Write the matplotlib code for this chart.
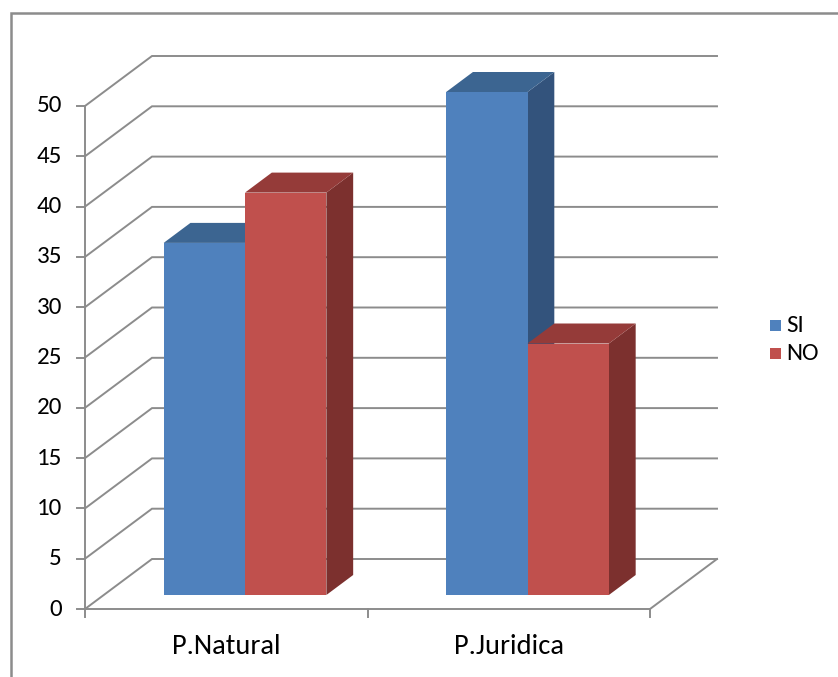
import matplotlib
matplotlib.use("Agg")
import matplotlib.pyplot as plt
from matplotlib.patches import Polygon, Rectangle

plt.rcParams['font.family'] = ['Carlito', 'Lato', 'DejaVu Sans']

categories = ["P.Natural", "P.Juridica"]
series = ["SI", "NO"]
values = {
    "SI": [35, 50],
    "NO": [40, 25],
}
yticks = list(range(0, 55, 5))

front_colors = {"SI": "#4f81bd", "NO": "#c0504d"}
top_colors = {"SI": "#3c6591", "NO": "#953b39"}
side_colors = {"SI": "#33537c", "NO": "#7c302e"}
grid_color = "#8c8c8c"

# oblique projection: depth d in [0, 1] shifts right and up
PX_X = 282.5   # pixels per category
PX_V = 10.06   # pixels per value unit
DX = 67 / PX_X
DV = 50 / PX_V
BAR_W = 0.288
D0, D1 = 0.28, 0.68
VMAX = 50
FS = 18
FS_CAT = 20.5


def proj(x, v, d):
    return (x + d * DX, v + d * DV)


fig = plt.figure(figsize=(8.38, 6.77), dpi=100)
ax = fig.add_axes([0, 0, 1, 1])
ax.set_xlim(-85 / PX_X, (838 - 85) / PX_X)
ax.set_ylim((609 - 677) / PX_V, 609 / PX_V)
ax.axis("off")

ncat = len(categories)
lw = 1.4

# back wall and left wall gridlines
for v in yticks:
    x0, y0 = proj(0, v, 0)
    x1, y1 = proj(0, v, 1)
    x2, y2 = proj(ncat, v, 1)
    ax.plot([x0, x1, x2], [y0, y1, y2], color=grid_color, lw=lw,
            solid_joinstyle="miter", zorder=1)

# floor outline
fx = [proj(0, 0, 0)[0], proj(ncat, 0, 0)[0], proj(ncat, 0, 1)[0]]
fy = [proj(0, 0, 0)[1], proj(ncat, 0, 0)[1], proj(ncat, 0, 1)[1]]
ax.plot(fx, fy, color=grid_color, lw=lw, zorder=1)

# front value axis with ticks
ax.plot([0, 0], [0, VMAX], color=grid_color, lw=lw, zorder=1)
tick_len = 8 / PX_X
for v in yticks:
    ax.plot([-tick_len, 0], [v, v], color=grid_color, lw=lw, zorder=1)
    ax.text(-23 / PX_X, v, str(v), ha="right", va="center",
            fontsize=FS, color="#000000")

# category axis ticks and labels
for i in range(ncat + 1):
    ax.plot([i, i], [0, -8 / PX_V], color=grid_color, lw=lw, zorder=1)
for i, cat in enumerate(categories):
    ax.text(i + 0.5, -37 / PX_V, cat, ha="center", va="center",
            fontsize=FS_CAT, color="#000000")

# 3d bars, drawn left to right
z = 3
for i in range(ncat):
    c = i + 0.5
    for j, s in enumerate(series):
        v = values[s][i]
        xl = c - BAR_W + j * BAR_W
        xr = xl + BAR_W
        side = [proj(xr, 0, D0), proj(xr, 0, D1), proj(xr, v, D1), proj(xr, v, D0)]
        top = [proj(xl, v, D0), proj(xr, v, D0), proj(xr, v, D1), proj(xl, v, D1)]
        front = [proj(xl, 0, D0), proj(xr, 0, D0), proj(xr, v, D0), proj(xl, v, D0)]
        ax.add_patch(Polygon(side, closed=True, fc=side_colors[s], ec="none", zorder=z))
        ax.add_patch(Polygon(top, closed=True, fc=top_colors[s], ec="none", zorder=z))
        ax.add_patch(Polygon(front, closed=True, fc=front_colors[s], ec="none", zorder=z + 0.5))
        z += 1

# legend
for k, s in enumerate(series):
    ly = (609 - 325 - k * 28) / PX_V
    lx = (770 - 85) / PX_X
    ax.add_patch(Rectangle((lx, ly - 5.5 / PX_V), 11 / PX_X, 11 / PX_V,
                           fc=front_colors[s], ec="none", zorder=10))
    ax.text(lx + 16 / PX_X, ly, s, ha="left", va="center", fontsize=FS)

# chart area border
fig.add_artist(Rectangle((11 / 838, -0.05), 1.1, 1 - 13 / 677 + 0.05,
                         transform=fig.transFigure, fill=False,
                         ec=grid_color, lw=1.8))

fig.savefig("out.png", dpi=100)
